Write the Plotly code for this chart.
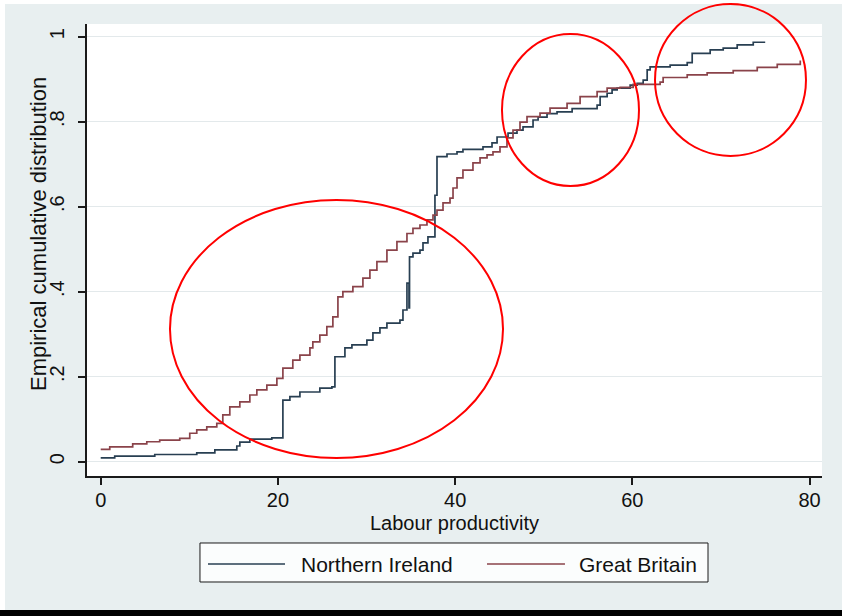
import plotly.graph_objects as go

# Empirical cumulative distribution of labour productivity (step points)
ni_x = [0.00, 1.58, 6.10, 10.84, 12.88, 15.36, 15.70, 16.83, 19.31, 20.56, 21.35, 22.48,
        24.73, 26.09, 26.43, 27.56, 28.35, 30.04, 30.72, 31.51, 32.30, 33.77, 34.11,
        34.56, 34.79, 34.85, 35.24, 36.03, 36.37, 36.93, 37.72, 37.95, 39.08, 40.21,
        40.88, 43.14, 44.16, 44.73, 45.97, 46.98, 47.66, 48.79, 49.36, 50.37, 51.50,
        53.20, 56.02, 56.36, 57.15, 57.71, 58.28, 59.75, 60.54, 61.22, 61.67, 62.00,
        64.26, 66.19, 66.75, 68.78, 70.25, 71.83, 73.64, 74.99]
ni_y = [0.009, 0.013, 0.017, 0.021, 0.028, 0.037, 0.046, 0.053, 0.056, 0.145, 0.153, 0.164,
        0.173, 0.176, 0.247, 0.268, 0.275, 0.286, 0.303, 0.315, 0.326, 0.333, 0.357,
        0.420, 0.362, 0.482, 0.491, 0.498, 0.515, 0.529, 0.627, 0.718, 0.724, 0.729,
        0.735, 0.741, 0.750, 0.764, 0.773, 0.780, 0.788, 0.804, 0.811, 0.819, 0.823,
        0.831, 0.839, 0.859, 0.867, 0.875, 0.879, 0.886, 0.890, 0.898, 0.922, 0.929,
        0.933, 0.939, 0.961, 0.969, 0.973, 0.981, 0.987, 0.987]

gb_x = [0.00, 1.02, 3.61, 5.20, 6.66, 8.92, 10.05, 10.84, 11.97, 13.10, 13.78, 14.57,
        15.70, 16.83, 17.62, 18.75, 19.88, 20.56, 21.68, 22.48, 23.61, 23.94, 24.73,
        25.52, 26.20, 26.77, 27.33, 28.46, 29.59, 30.38, 31.17, 32.30, 33.43, 34.56,
        35.24, 36.03, 36.82, 37.50, 37.95, 38.63, 39.42, 39.76, 40.21, 40.88, 42.01,
        42.81, 43.60, 44.27, 45.06, 45.85, 46.53, 47.32, 48.11, 49.58, 50.71, 52.63,
        54.10, 56.02, 57.15, 58.62, 60.09, 63.13, 63.47, 66.19, 68.44, 71.38, 74.09,
        76.35, 78.95]
gb_y = [0.029, 0.035, 0.042, 0.047, 0.051, 0.055, 0.067, 0.075, 0.082, 0.090, 0.110, 0.129,
        0.141, 0.157, 0.169, 0.180, 0.196, 0.220, 0.239, 0.251, 0.268, 0.282, 0.298,
        0.318, 0.341, 0.388, 0.400, 0.412, 0.432, 0.451, 0.471, 0.498, 0.518, 0.537,
        0.549, 0.557, 0.569, 0.580, 0.592, 0.609, 0.620, 0.644, 0.668, 0.686, 0.703,
        0.715, 0.722, 0.729, 0.741, 0.762, 0.780, 0.799, 0.812, 0.820, 0.832, 0.843,
        0.859, 0.871, 0.879, 0.881, 0.888, 0.893, 0.904, 0.910, 0.915, 0.920, 0.928,
        0.935, 0.944]

series_names = ["Northern Ireland", "Great Britain"]
x_ticks = [0, 20, 40, 60, 80]
y_ticks = [0, 0.2, 0.4, 0.6, 0.8, 1]
y_tick_text = ["0", ".2", ".4", ".6", ".8", "1"]

NI_COLOR = "#283f52"
GB_COLOR = "#8a434a"
PANEL = "#e8eff0"
AXIS = "#1a1a1a"
FONT = "Liberation Sans, Arial, sans-serif"

fig = go.Figure()
fig.add_trace(go.Scatter(x=ni_x, y=ni_y, mode="lines", name=series_names[0],
                         line=dict(shape="hv", color=NI_COLOR, width=1.7), showlegend=False))
fig.add_trace(go.Scatter(x=gb_x, y=gb_y, mode="lines", name=series_names[1],
                         line=dict(shape="hv", color=GB_COLOR, width=1.7), showlegend=False))

shapes = []
# highlighted regions
for x0, x1, y0, y1 in [(0.1129, 0.5660, 0.0398, 0.6106),
                       (0.5646, 0.7510, 0.6416, 0.9779),
                       (0.7728, 0.9782, 0.7080, 1.0442)]:
    shapes.append(dict(type="circle", xref="paper", yref="paper", x0=x0, x1=x1, y0=y0, y1=y1,
                       line=dict(color="#ff0000", width=2), layer="above"))
# outer frame strips
shapes.append(dict(type="rect", xref="paper", yref="paper", x0=-0.2, x1=1.1, y0=1.0442, y1=1.06,
                   fillcolor="white", line=dict(width=0), layer="below"))
shapes.append(dict(type="rect", xref="paper", yref="paper", x0=-0.13, x1=-0.1116, y0=-0.32, y1=1.06,
                   fillcolor="white", line=dict(width=0), layer="below"))
shapes.append(dict(type="rect", xref="paper", yref="paper", x0=-0.13, x1=1.1, y0=-0.32, y1=-0.2965,
                   fillcolor="black", line=dict(width=0), layer="above"))
# legend box and keys
shapes.append(dict(type="rect", xref="paper", yref="paper", x0=0.1537, x1=0.8449, y0=-0.2345, y1=-0.1482,
                   fillcolor="#fbfdfd", line=dict(color=AXIS, width=1)))
shapes.append(dict(type="line", xref="paper", yref="paper", x0=0.1646, x1=0.2694, y0=-0.1947, y1=-0.1947,
                   line=dict(color=NI_COLOR, width=1.7)))
shapes.append(dict(type="line", xref="paper", yref="paper", x0=0.5442, x1=0.6503, y0=-0.1947, y1=-0.1947,
                   line=dict(color=GB_COLOR, width=1.7)))

annotations = [
    dict(text=series_names[0], xref="paper", yref="paper", x=0.2884, y=-0.1947,
         xanchor="left", yanchor="middle", showarrow=False, font=dict(size=21, color="#111", family=FONT)),
    dict(text=series_names[1], xref="paper", yref="paper", x=0.6667, y=-0.1947,
         xanchor="left", yanchor="middle", showarrow=False, font=dict(size=21, color="#111", family=FONT)),
    dict(text="Labour productivity", xref="paper", yref="paper", x=0.5, y=-0.1045,
         xanchor="center", yanchor="middle", showarrow=False, font=dict(size=20, color="#111", family=FONT)),
    dict(text="Empirical cumulative distribution", xref="paper", yref="paper", x=-0.0653, y=0.5354,
         xanchor="center", yanchor="middle", textangle=-90, showarrow=False,
         font=dict(size=22, color="#111", family=FONT)),
]

fig.update_layout(
    template="none",
    width=842, height=616,
    margin=dict(l=87, r=20, t=24, b=140),
    paper_bgcolor=PANEL,
    plot_bgcolor="white",
    shapes=shapes,
    annotations=annotations,
    showlegend=False,
    xaxis=dict(range=[-1.547, 81.40], tickvals=x_ticks, showgrid=False, zeroline=False,
               showline=True, linecolor=AXIS, linewidth=2, ticks="outside", ticklen=7,
               tickwidth=1.5, tickcolor=AXIS, ticklabelstandoff=-2,
               tickfont=dict(size=20, color="#111", family=FONT)),
    yaxis=dict(range=[-0.0336, 1.0299], tickvals=y_ticks, ticktext=y_tick_text, tickangle=-90,
               showgrid=True, gridcolor="#e3e9eb", gridwidth=1, zeroline=False,
               showline=True, linecolor=AXIS, linewidth=2, ticks="outside", ticklen=7,
               tickwidth=1.5, tickcolor=AXIS, ticklabelstandoff=6,
               tickfont=dict(size=20, color="#111", family=FONT)),
)

fig.write_html("out.html")
